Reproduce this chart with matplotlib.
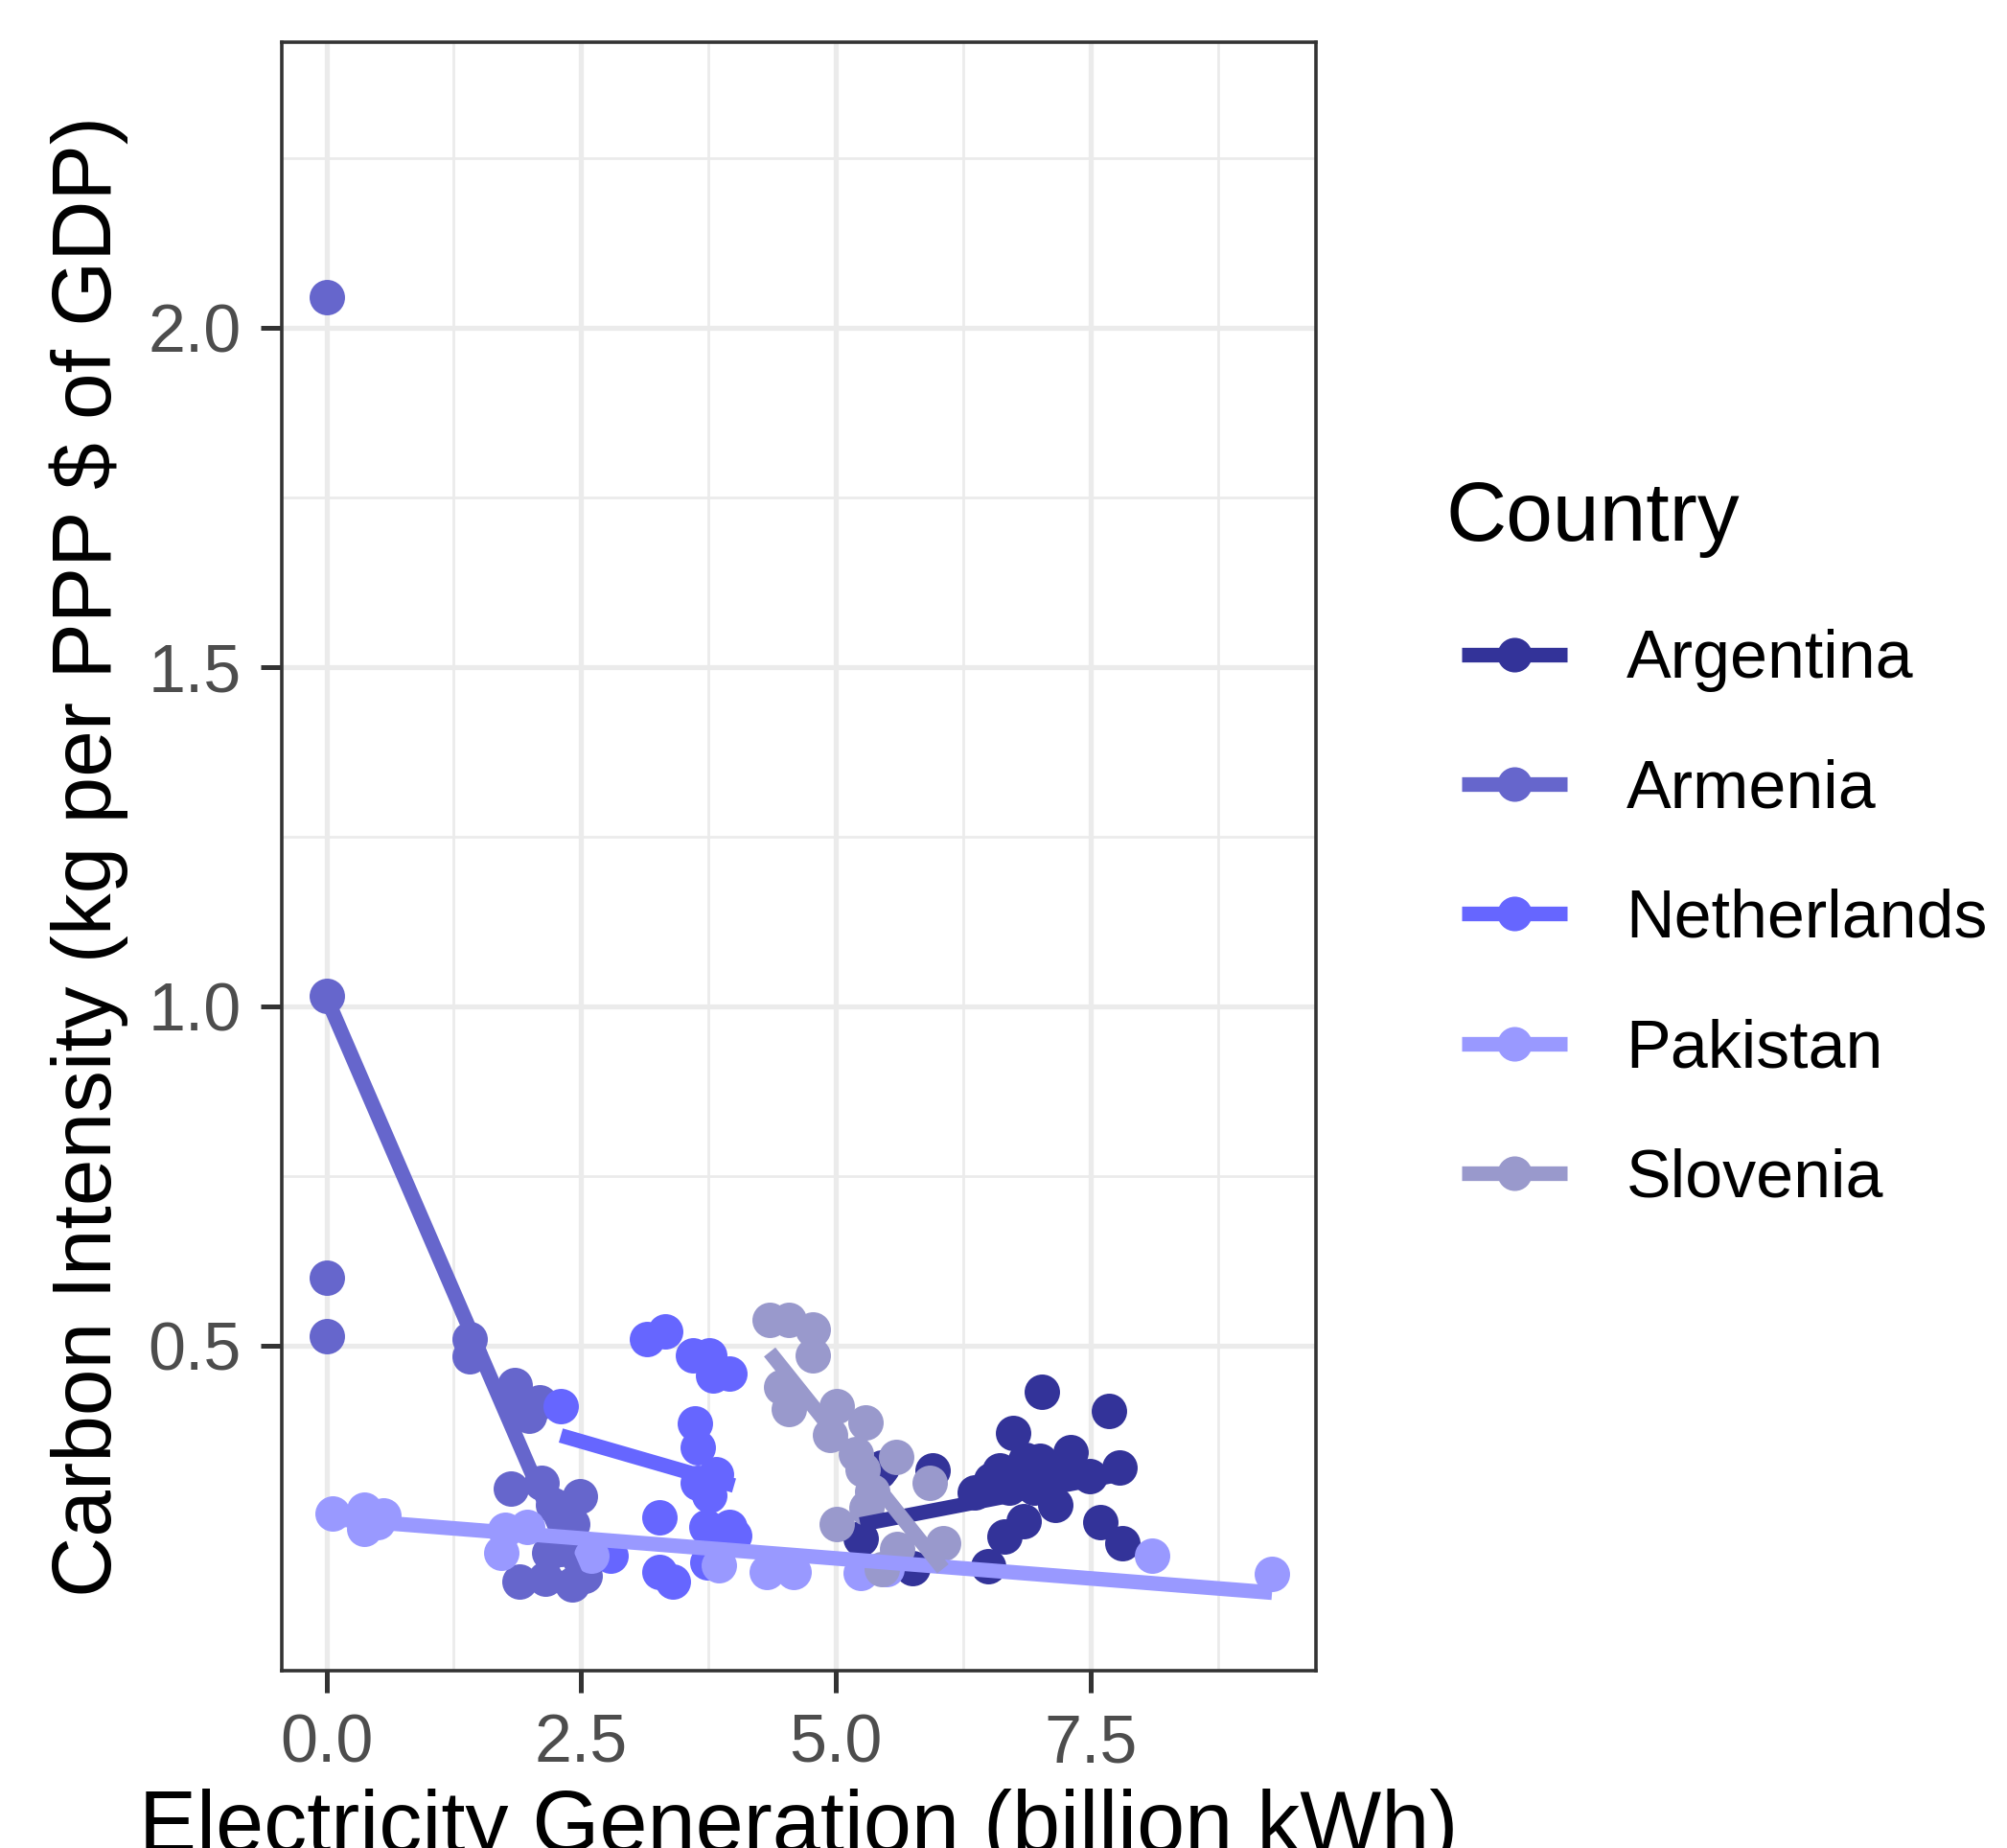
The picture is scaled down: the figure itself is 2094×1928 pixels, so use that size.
import matplotlib
matplotlib.use("Agg")
import matplotlib.pyplot as plt
from matplotlib.lines import Line2D
import numpy as np

plt.rcParams['font.family'] = ['Liberation Sans', 'DejaVu Sans']

countries = ["Argentina", "Armenia", "Netherlands", "Pakistan", "Slovenia"]
colors = ["#333399", "#6666CC", "#6666FF", "#9999FF", "#9999CC"]

argentina_x = [5.24, 5.42, 5.45, 5.75, 5.95, 6.36, 6.49, 6.52, 6.61, 6.65, 6.70, 6.74,
               6.84, 6.86, 6.95, 7.00, 7.02, 7.10, 7.15, 7.20, 7.30, 7.49, 7.59, 7.68,
               7.78, 7.81]
argentina_y = [0.215, 0.315, 0.320, 0.172, 0.316, 0.283, 0.175, 0.302, 0.316, 0.218, 0.290, 0.371,
               0.241, 0.331, 0.290, 0.330, 0.432, 0.300, 0.265, 0.310, 0.343, 0.307, 0.240, 0.403,
               0.320, 0.208]

armenia_x = [0.0, 0.0, 0.0, 0.0, 1.41, 1.41, 1.85, 1.86, 2.09, 1.99, 1.81, 2.11,
             2.49, 2.22, 2.41, 2.19, 1.89, 2.15, 2.41, 2.30, 2.53, 2.35]
armenia_y = [2.045, 1.015, 0.600, 0.513, 0.509, 0.484, 0.441, 0.416, 0.416, 0.396, 0.289, 0.297,
             0.277, 0.265, 0.237, 0.194, 0.152, 0.156, 0.147, 0.200, 0.160, 0.250]

netherlands_x = [2.30, 2.79, 3.15, 3.32, 3.60, 3.76, 3.79, 3.95, 3.62, 3.64, 3.82, 3.64,
                 3.76, 3.27, 3.73, 3.95, 4.00, 3.74, 3.27, 3.40, 3.85]
netherlands_y = [0.410, 0.190, 0.510, 0.520, 0.486, 0.486, 0.455, 0.458, 0.385, 0.350, 0.310, 0.297,
                 0.279, 0.246, 0.232, 0.232, 0.220, 0.180, 0.166, 0.152, 0.200]

pakistan_x = [0.06, 0.37, 0.37, 0.56, 0.50, 1.75, 1.97, 1.72, 2.60, 3.85, 4.32, 4.58,
              5.24, 5.50, 8.10, 9.28]
pakistan_y = [0.252, 0.258, 0.230, 0.250, 0.240, 0.228, 0.232, 0.194, 0.190, 0.176, 0.166, 0.166,
              0.165, 0.170, 0.190, 0.163]

slovenia_x = [4.35, 4.54, 4.77, 4.77, 4.46, 4.54, 5.01, 5.29, 4.94, 5.20, 5.59, 5.26,
              5.01, 5.36, 5.92, 6.05, 5.45, 5.30, 5.60]
slovenia_y = [0.538, 0.538, 0.523, 0.486, 0.439, 0.406, 0.411, 0.387, 0.368, 0.340, 0.336, 0.317,
              0.237, 0.284, 0.297, 0.208, 0.170, 0.260, 0.200]

# linear trend per country
fit_intercept = [0.084, 1.013, 0.467, 0.245, 1.308]
fit_slope = [0.029, -0.348, -0.0434, -0.0118, -0.188]

xs_all = [argentina_x, armenia_x, netherlands_x, pakistan_x, slovenia_x]
ys_all = [argentina_y, armenia_y, netherlands_y, pakistan_y, slovenia_y]

x_ticks = [0.0, 2.5, 5.0, 7.5]
x_tick_labels = ["0.0", "2.5", "5.0", "7.5"]
y_ticks = [0.5, 1.0, 1.5, 2.0]
y_tick_labels = ["0.5", "1.0", "1.5", "2.0"]

fig = plt.figure(figsize=(10.47, 9.64), dpi=200)
ax = fig.add_axes([0.14031, 0.09606, 0.51533, 0.88107])

for x, y, c in zip(xs_all, ys_all, colors):
    ax.scatter(x, y, s=177, color=c, linewidths=0, zorder=3)

for x, a, b, c in zip(xs_all, fit_intercept, fit_slope, colors):
    xx = np.array([min(x), max(x)])
    ax.plot(xx, a + b * xx, color=c, lw=5.5, solid_capstyle='butt', zorder=4)

ax.set_xlim(-0.44, 9.71)
ax.set_ylim(0.0208, 2.4207)
ax.set_xticks(x_ticks)
ax.set_xticklabels(x_tick_labels)
ax.set_yticks(y_ticks)
ax.set_yticklabels(y_tick_labels)
ax.set_xticks([1.25, 3.75, 6.25, 8.75], minor=True)
ax.set_yticks([0.75, 1.25, 1.75, 2.25], minor=True)
ax.grid(which='major', color='#EBEBEB', lw=1.9)
ax.grid(which='minor', color='#EBEBEB', lw=1.0)
ax.set_axisbelow(True)
ax.tick_params(which='major', length=8.1, width=1.8, color='#333333',
               labelsize=25.2, labelcolor='#4D4D4D')
ax.tick_params(axis='x', pad=8)
ax.tick_params(axis='y', pad=7)
ax.tick_params(which='minor', length=0)
for sp in ax.spines.values():
    sp.set_color('#333333')
    sp.set_linewidth(1.3)

fig.text(0.398, -0.002, "Electricity Generation (billion kWh)", fontsize=32.4,
         ha='center', va='baseline')
fig.text(0.0554, 0.5366, "Carbon Intensity (kg per PPP $ of GDP)", fontsize=31.5,
         rotation=90, rotation_mode='anchor', ha='center', va='baseline')

fig.text(0.7206, 0.7077, "Country", fontsize=31.5, ha='left', va='baseline')
handles = [Line2D([], [], color=c, lw=5.5, marker='o', markersize=13, markeredgewidth=0,
                  solid_capstyle='butt') for c in colors]
fig.legend(handles, countries, loc='upper left', bbox_to_anchor=(0.7283, 0.6596),
           frameon=False, fontsize=25.2, handlelength=1.57, handletextpad=0.88,
           labelspacing=0.99, borderpad=0, borderaxespad=0)

fig.savefig('out.png', dpi=200)
